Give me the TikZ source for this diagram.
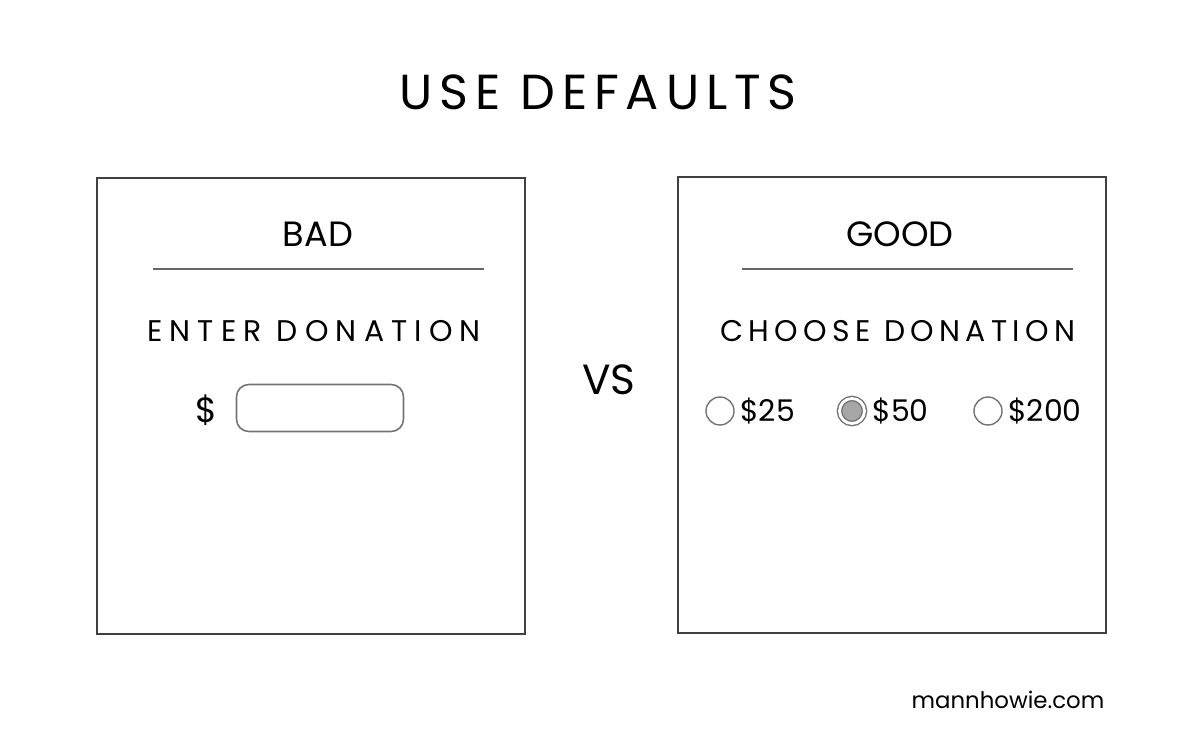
\documentclass[tikz,border=0pt]{standalone}
\usepackage{fontspec}
\setmainfont{Poppins}
\usepackage{tikz}
\usetikzlibrary{positioning,calc}

\begin{document}
\begin{tikzpicture}[
  x=0.02cm, y=-0.02cm,
  panel/.style={rectangle, draw=black!75, line width=1.4pt, minimum width=8.56cm, minimum height=9.12cm},
  head/.style={font=\fontsize{20}{24}\selectfont},
  label/.style={font=\fontsize{17}{20}\selectfont\addfontfeature{LetterSpace=24}},
  rule/.style={draw=black!60, line width=1pt},
  radio/.style={circle, draw=black!55, line width=0.8pt, minimum size=0.56cm, inner sep=0pt},
  amount/.style={font=\fontsize{17}{20}\selectfont, inner sep=0pt}
]
  \useasboundingbox (0,0) rectangle (1200,756);

  % Title
  \node[font=\fontsize{28}{32}\selectfont\addfontfeature{LetterSpace=14}] (title) at (598,92) {USE DEFAULTS};

  % Bad panel
  \node[panel] (bad) at (311,406) {};
  \node[head] (badhead) at (318,234) {BAD};
  \coordinate (badl) at (153,269);
  \coordinate (badr) at (484,269);
  \draw[rule] (badl) -- (badr);
  \node[label] (enter) at (314,331) {ENTER DONATION};
  \node[font=\fontsize{20}{24}\selectfont] (dollar) at (206,410) {\$};
  \node[rectangle, rounded corners=7pt, draw=black!55, line width=0.9pt, minimum width=3.34cm, minimum height=0.94cm] (field) at (320,408) {};

  % VS
  \node[font=\fontsize{24}{28}\selectfont] (vs) at (609,380) {VS};

  % Good panel
  \node[panel] (good) at (892,405) {};
  \node[head] (goodhead) at (900,234) {GOOD};
  \coordinate (goodl) at (742,269);
  \coordinate (goodr) at (1073,269);
  \draw[rule] (goodl) -- (goodr);
  \node[label, font=\fontsize{17}{20}\selectfont\addfontfeature{LetterSpace=18}] (choose) at (898,331) {CHOOSE DONATION};

  % Options
  \node[radio] (r25) at (720,411) {};
  \node[amount, right=3pt of r25] (a25) {\$25};
  \node[radio, fill=black!35, double=white, double distance=1.6pt, minimum size=0.5cm] (r50) at (852,411) {};
  \node[amount, right=4pt of r50] (a50) {\$50};
  \node[radio] (r200) at (988,411) {};
  \node[amount, right=3pt of r200] (a200) {\$200};

  % Credit
  \node[font=\fontsize{13}{16}\selectfont] (credit) at (1008,700) {mannhowie.com};
\end{tikzpicture}
\end{document}
